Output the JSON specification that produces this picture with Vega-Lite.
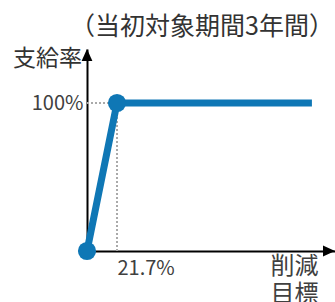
{
  "$schema": "https://vega.github.io/schema/vega-lite/v6.json",
  "width": 248,
  "height": 202,
  "autosize": {"type": "none"},
  "padding": {"left": 87, "top": 49, "right": 0, "bottom": 51},
  "config": {"view": {"stroke": null}, "font": "Noto Sans CJK JP"},
  "title": {
    "text": "（当初対象期間3年間）",
    "anchor": "end",
    "frame": "group",
    "fontSize": 25,
    "fontWeight": "normal",
    "color": "#333333",
    "baseline": "middle",
    "offset": -5,
    "dx": -1
  },
  "datasets": {
    "curve": [{"x": 0, "y": 0}, {"x": 21.7, "y": 100}, {"x": 162.7, "y": 100}],
    "pts": [{"x": 0, "y": 0}, {"x": 21.7, "y": 100}],
    "guides": [{"x": 0, "y": 100, "x2": 21.7, "y2": 100}, {"x": 21.7, "y": 0, "x2": 21.7, "y2": 100}],
    "arrows": [{"x": 0, "y": 136.5, "dir": "up"}, {"x": 179.4, "y": 0, "dir": "right"}]
  },
  "encoding": {
    "x": {
      "field": "x",
      "type": "quantitative",
      "scale": {"domain": [0, 179.4], "nice": false, "zero": false},
      "axis": {
        "values": [21.7],
        "labelExpr": "format(datum.value, '.1f') + '%'",
        "labelAlign": "left",
        "labelDx": -4,
        "labelBaseline": "middle",
        "labelPadding": 17,
        "ticks": false,
        "tickSize": 0,
        "grid": false,
        "domainColor": "#000000",
        "domainWidth": 2,
        "labelFontSize": 20,
        "labelColor": "#404040",
        "labelFlush": false,
        "labelOverlap": false,
        "title": ["削減", "目標"],
        "titleX": 207,
        "titleY": 3,
        "titleAlign": "center",
        "titleBaseline": "top",
        "titleFontSize": 24,
        "titleFontWeight": "normal",
        "titleColor": "#404040",
        "titleLineHeight": 28
      }
    },
    "y": {
      "field": "y",
      "type": "quantitative",
      "scale": {"domain": [0, 136.5], "nice": false, "zero": false},
      "axis": {
        "values": [100],
        "labelExpr": "datum.value + '%'",
        "labelFontSize": 20,
        "labelPadding": 4,
        "labelBaseline": "middle",
        "labelDy": 2,
        "labelColor": "#404040",
        "ticks": false,
        "tickSize": 0,
        "grid": false,
        "domainColor": "#000000",
        "domainWidth": 2,
        "title": "支給率",
        "titleAngle": 0,
        "titleX": -40,
        "titleY": 9,
        "titleAlign": "center",
        "titleBaseline": "middle",
        "titleFontSize": 23,
        "titleFontWeight": "normal",
        "titleColor": "#333333"
      }
    }
  },
  "layer": [
    {
      "data": {"name": "guides"},
      "mark": {"type": "rule", "color": "#aaaaaa", "strokeWidth": 2, "strokeDash": [2, 2]},
      "encoding": {"x2": {"field": "x2"}, "y2": {"field": "y2"}}
    },
    {
      "data": {"name": "curve"},
      "mark": {"type": "line", "color": "#0f77b5", "strokeWidth": 7, "strokeJoin": "round"},
      "encoding": {}
    },
    {
      "data": {"name": "pts"},
      "mark": {"type": "point", "filled": true, "opacity": 1, "color": "#0f77b5", "size": 330, "shape": "circle"},
      "encoding": {}
    },
    {
      "data": {"name": "arrows"},
      "mark": {"type": "point", "filled": true, "opacity": 1, "color": "#000000", "size": 144},
      "encoding": {
        "shape": {
          "field": "dir",
          "type": "nominal",
          "scale": {"domain": ["up", "right"], "range": ["M0,0 L-0.9,2 L0.9,2 Z", "M0,0 L-2,-0.9 L-2,0.9 Z"]},
          "legend": null
        }
      }
    }
  ]
}
